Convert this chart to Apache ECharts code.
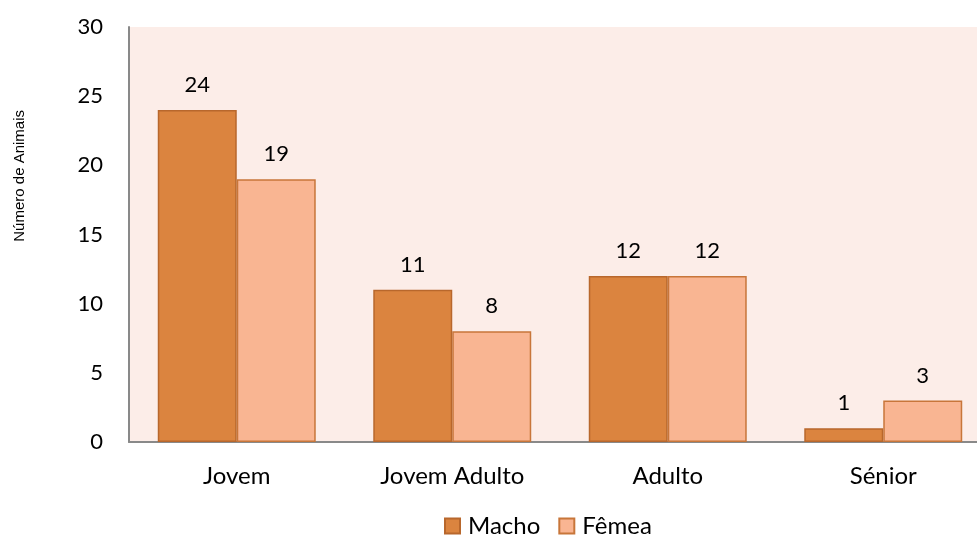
<!DOCTYPE html>
<html>
<head>
<meta charset="utf-8">
<script src="https://cdn.jsdelivr.net/npm/echarts@6/dist/echarts.min.js"></script>
<style>
  html, body { margin: 0; padding: 0; background: #ffffff; overflow: hidden; }
  #chart { width: 991px; height: 543px; }
</style>
</head>
<body>
<div id="chart"></div>
<script>
// Age classes and animal counts by sex
const categories = ['Jovem', 'Jovem Adulto', 'Adulto', 'Sénior'];
const machoValues = [24, 11, 12, 1];
const femeaValues = [19, 8, 12, 3];
const yTicks = { min: 0, max: 30, interval: 5 };
const yTitle = 'Número de Animais';

const labelFont = 'Lato, "Open Sans", sans-serif';

const chart = echarts.init(document.getElementById('chart'), null, { renderer: 'canvas' });

chart.setOption({
  animation: false,
  backgroundColor: '#ffffff',
  grid: {
    left: 129, right: 0, top: 27, bottom: 101,
    show: true, backgroundColor: '#FCEDE8', borderWidth: 0
  },
  legend: {
    bottom: 0,
    left: 439,
    itemWidth: 15, itemHeight: 15, itemGap: 18,
    icon: 'rect',
    textStyle: { fontFamily: labelFont, fontSize: 24, color: '#000000', padding: [0, 0, 0, 3] },
    data: ['Macho', 'Fêmea']
  },
  graphic: [{
    type: 'text',
    left: 12,
    top: 110,
    rotation: Math.PI / 2,
    style: {
      text: yTitle,
      font: '15px "Liberation Sans", Arial, sans-serif',
      fill: '#000000'
    }
  }],
  xAxis: {
    type: 'category',
    data: categories,
    axisLine: { show: true, lineStyle: { color: '#898989', width: 2 } },
    axisTick: { show: false },
    axisLabel: { fontFamily: labelFont, fontSize: 24, color: '#000000', margin: 22 }
  },
  yAxis: {
    type: 'value',
    min: yTicks.min, max: yTicks.max, interval: yTicks.interval,
    axisLine: { show: true, lineStyle: { color: '#898989', width: 2 } },
    axisTick: { show: false },
    splitLine: { show: false },
    axisLabel: { fontFamily: labelFont, fontSize: 22, color: '#000000', margin: 26 }
  },
  series: [
    {
      name: 'Macho',
      type: 'bar',
      data: machoValues,
      barGap: '0%',
      barCategoryGap: '26.7%',
      itemStyle: { color: '#DB843F', borderColor: '#B8672C', borderWidth: 1.5 },
      label: { show: true, position: 'top', distance: 14, fontFamily: labelFont, fontSize: 22, color: '#000000' }
    },
    {
      name: 'Fêmea',
      type: 'bar',
      data: femeaValues,
      itemStyle: { color: '#F9B592', borderColor: '#C8763A', borderWidth: 1.5 },
      label: { show: true, position: 'top', distance: 14, fontFamily: labelFont, fontSize: 22, color: '#000000' }
    }
  ]
});
</script>
</body>
</html>
